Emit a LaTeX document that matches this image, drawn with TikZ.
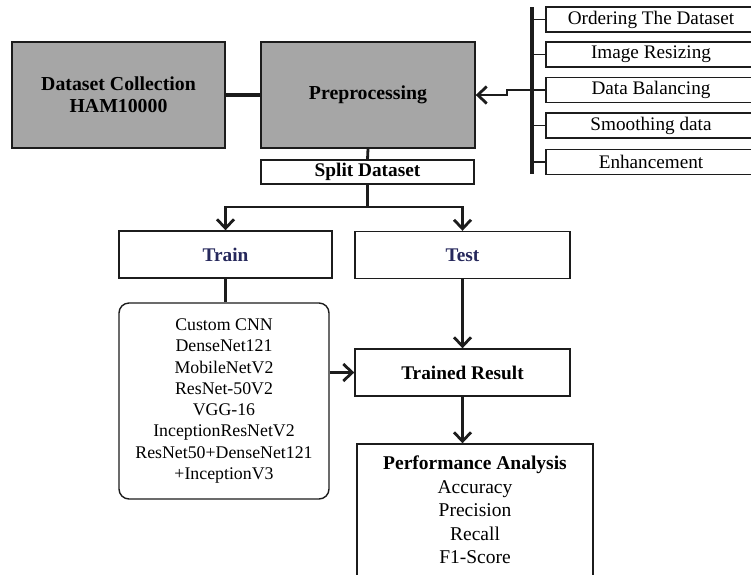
\documentclass[tikz,border=0pt]{standalone}
\usepackage{fontspec}
\setmainfont{Liberation Serif}
\usetikzlibrary{arrows.meta,positioning}
\definecolor{ink}{RGB}{28,28,28}
\definecolor{shade}{RGB}{166,166,166}
\definecolor{navy}{RGB}{38,40,92}
\tikzset{
  arr/.style={-{Straight Barb[length=9pt,width=17pt]},line width=2.8pt,draw=ink},
  link/.style={line width=2.8pt,draw=ink},
  bar/.style={line width=3.8pt,draw=ink},
  gbox/.style={draw=ink,line width=1.4pt,fill=shade,minimum width=213pt,minimum height=106pt,align=center,font=\fontsize{19.8}{22}\selectfont\bfseries},
  wbox/.style={draw=ink,line width=1.4pt,fill=white,minimum width=213pt,minimum height=47pt,inner sep=0pt,align=center,font=\fontsize{19.3}{22}\selectfont\bfseries},
  rbox/.style={draw=ink,line width=1.4pt,fill=white,rounded corners=10pt,minimum width=210pt,minimum height=196pt,align=center,font=\fontsize{17.8}{21.3}\selectfont},
  pbox/.style={draw=ink,line width=1.4pt,fill=white,minimum width=236pt,minimum height=132pt,align=center,font=\fontsize{19.5}{23.5}\selectfont},
  item/.style={draw=ink,line width=1.4pt,fill=white,minimum width=210pt,minimum height=25pt,inner sep=0pt,font=\fontsize{19.2}{22}\selectfont}
}

\begin{document}
\begin{tikzpicture}[x=1pt,y=-1pt]
  \useasboundingbox (0,0) rectangle (751,574);

  \node[gbox] (data) at (118.5,95) {Dataset Collection\\HAM10000};
  \node[gbox,minimum width=214pt] (prep) at (368,95) {Preprocessing};
  \draw[bar] (data.east) -- (prep.west);

  % preprocessing steps on the right
  \foreach \y/\t [count=\i] in {19.5/Ordering The Dataset,54.5/Image Resizing,90/Data Balancing,125.5/Smoothing data,162/Enhancement}{
    \node[item] (step\i) at (651,\y) {\t};
  }
  \coordinate (bartop) at (532,7);
  \coordinate (barbot) at (532,174);
  \draw[bar] (bartop) -- (barbot);
  \foreach \i in {1,...,5}{\draw[link,line width=1.8pt] (bartop |- step\i.west) -- (step\i.west);}
  \draw[arr] (bartop |- step3.west) -- ++(-25,0) |- (prep.east);

  \node[wbox,minimum height=24pt] (split) at (367.5,172) {Split Dataset};
  \draw[link] (prep.south) -- (split.north);

  \node[wbox,text=navy] (train) at (225.5,254.5) {Train};
  \node[wbox,text=navy,minimum width=215pt] (test) at (462.5,255) {Test};
  \coordinate (fork) at (367.5,207);
  \draw[link] (split.south) -- (fork);
  \draw[arr] (fork) -| (train.north);
  \draw[arr] (fork) -| (test.north);

  \node[rbox] (models) at (224,401) {Custom CNN\\DenseNet121\\MobileNetV2\\ResNet-50V2\\VGG-16\\InceptionResNetV2\\ResNet50+DenseNet121\\+InceptionV3};
  \draw[link] (train.south) -- (train.south |- models.north);

  \node[wbox,minimum width=215pt] (result) at (462.5,372.5) {Trained Result};
  \draw[arr] (test.south) -- (result.north);
  \draw[arr] (models.east |- result.west) -- (result.west);

  \node[pbox] (perf) at (475,510) {\textbf{Performance Analysis}\\Accuracy\\Precision\\Recall\\F1-Score};
  \draw[arr] (result.south) -- (result.south |- perf.north);
\end{tikzpicture}
\end{document}
